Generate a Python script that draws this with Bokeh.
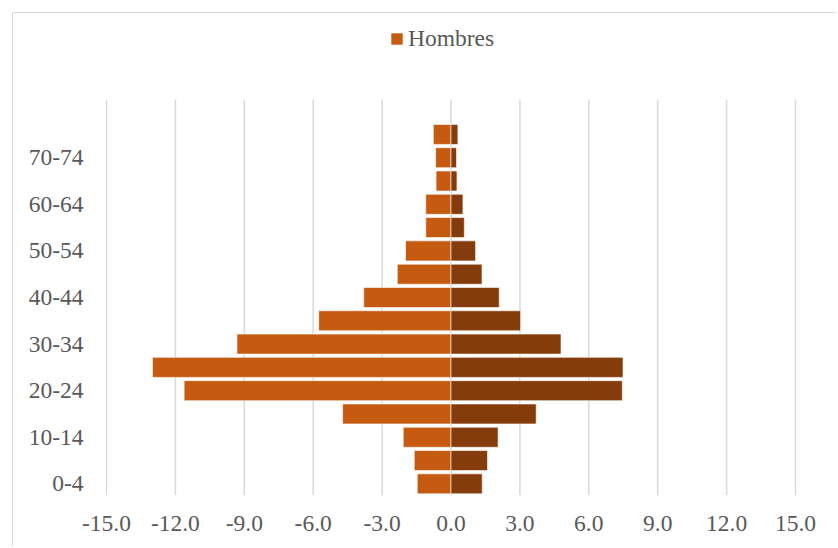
from bokeh.plotting import figure
from bokeh.models import (FixedTicker, Legend, LegendItem, Range1d,
                          PrintfTickFormatter)
from bokeh.embed import file_html
from bokeh.resources import INLINE

age_groups = ["0-4", "5-9", "10-14", "15-19", "20-24", "25-29", "30-34", "35-39",
              "40-44", "45-49", "50-54", "55-59", "60-64", "65-69", "70-74", "75+"]
hombres = [-1.47, -1.60, -2.08, -4.72, -11.62, -13.00, -9.32, -5.76,
           -3.80, -2.34, -1.98, -1.10, -1.10, -0.65, -0.67, -0.77]
mujeres = [1.36, 1.59, 2.05, 3.71, 7.46, 7.49, 4.79, 3.03,
           2.10, 1.35, 1.07, 0.58, 0.52, 0.26, 0.24, 0.30]
x_ticks = [-15, -12, -9, -6, -3, 0, 3, 6, 9, 12, 15]
label_every = 2

FONT = "Liberation Serif"
TXT = "#595959"
GRID = "#D9D9D9"

idx = list(range(len(age_groups)))
n_bands = len(age_groups) + 1          # one empty band above the top group
y_lo = -0.5
y_grid_top = y_lo + n_bands

p = figure(width=824, height=534, output_backend="svg", toolbar_location=None,
           min_border_left=92, min_border_right=41, min_border_top=0, min_border_bottom=52,
           x_range=Range1d(-15.044, 15.044), y_range=Range1d(y_lo, 20.19))
p.outline_line_color = None
p.background_fill_color = "white"
p.border_fill_color = "white"
p.styles = {"margin-left": "12px", "margin-top": "12px",
            "border-left": "1.5px solid #D9D9D9", "border-top": "1.5px solid #D9D9D9"}

# vertical gridlines, only over the category bands
p.segment(x0=x_ticks, x1=x_ticks, y0=y_lo, y1=y_grid_top,
          line_color=GRID, line_width=1.5, level="underlay")

r_h = p.hbar(y=idx, left=0, right=hombres, height=0.86, fill_color="#C55A11",
             line_color="white", line_alpha=0.6, line_width=1)
r_m = p.hbar(y=idx, left=0, right=mujeres, height=0.86, fill_color="#843C0C",
             line_color="white", line_alpha=0.6, line_width=1)

p.xgrid.grid_line_color = None
p.ygrid.grid_line_color = None

xa = p.xaxis[0]
xa.ticker = FixedTicker(ticks=x_ticks)
xa.formatter = PrintfTickFormatter(format="%.1f")
ya = p.yaxis[0]
ya.ticker = FixedTicker(ticks=idx[::label_every])
ya.major_label_overrides = {i: age_groups[i] for i in idx[::label_every]}
for ax in (xa, ya):
    ax.axis_line_color = None
    ax.major_tick_line_color = None
    ax.minor_tick_line_color = None
    ax.major_tick_out = 0
    ax.major_tick_in = 0
    ax.major_label_text_font = FONT
    ax.major_label_text_font_size = "23.5px"
    ax.major_label_text_color = TXT
xa.major_label_standoff = 20
ya.major_label_standoff = 22

legend = Legend(items=[LegendItem(label="Hombres", renderers=[r_h])],
                location=(284, 443), orientation="horizontal",
                glyph_width=15, glyph_height=15, label_standoff=4,
                padding=0, margin=0, border_line_color=None,
                background_fill_alpha=0,
                label_text_font=FONT, label_text_font_size="23.5px",
                label_text_color=TXT)
p.add_layout(legend, "center")

open("out.html", "w").write(file_html(p, INLINE))
